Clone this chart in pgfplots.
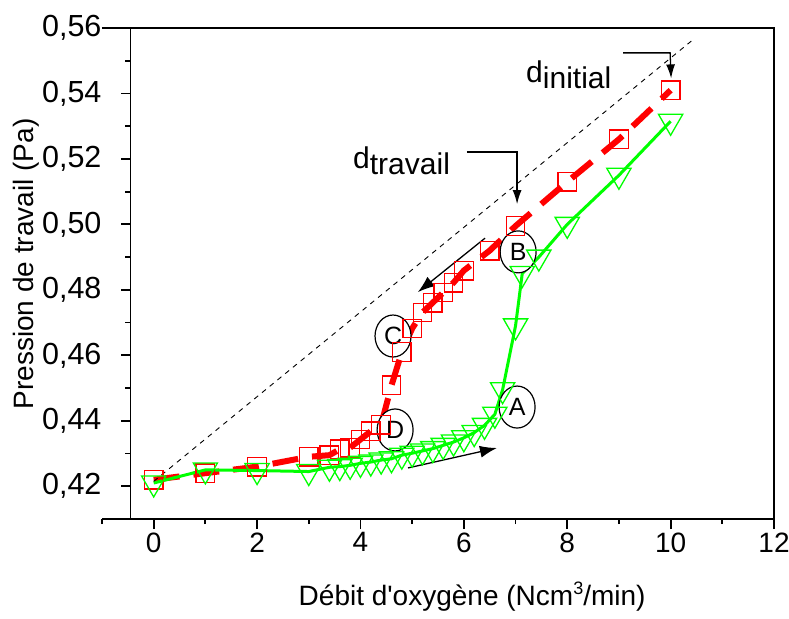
\documentclass[border=0pt]{standalone}
\usepackage{pgfplots}
\pgfplotsset{compat=1.18}
\usepackage{fontspec}
\setmainfont{Liberation Sans}
\usetikzlibrary{arrows.meta,shapes.geometric}
\definecolor{pgreen}{RGB}{0,255,0}
\definecolor{pred}{RGB}{255,0,0}
\newcommand{\bigf}{\fontsize{28}{30}\selectfont}
\begin{document}
\begin{tikzpicture}
\begin{axis}[
  scale only axis, width=672pt, height=491pt,
  xmin=-1, xmax=12, ymin=0.41, ymax=0.56,
  clip=false,
  axis line style={draw=none},
  tick align=outside,
  xtick pos=left, ytick pos=left,
  xtick={0,2,4,6,8,10,12},
  minor xtick={-1,1,3,5,7,9,11},
  ytick={0.42,0.44,0.46,0.48,0.50,0.52,0.54,0.56},
  major tick length=10pt, minor tick length=5pt,
  every tick/.append style={black, line width=1.8pt},
  ytick style={draw=none},
  /pgf/number format/assume math mode=true,
  xticklabel style={font=\bigf},
  yticklabel style={font=\fontsize{30.5}{32}\selectfont, xshift=13pt, /pgf/number format/.cd, fixed, fixed zerofill, precision=2, use comma},
  xlabel={Débit d\textquotesingle oxygène (Ncm\raisebox{11pt}{\fontsize{18}{18}\selectfont 3}/min)},
  every axis x label/.style={at={(axis cs:6.16,0.3837)}, anchor=base, font=\bigf},
  ylabel={Pression de travail (Pa)},
  every axis y label/.style={at={(axis cs:-2.142,0.4879)}, rotate=90, anchor=south, font=\bigf},
]
% frame
\draw[line width=1.8pt] (axis cs:-1,0.56) -- (axis cs:12,0.56) -- (axis cs:12,0.41) -- (axis cs:-1,0.41);
\draw[line width=1.8pt] (axis cs:-0.45,0.41) -- (axis cs:-0.45,0.56);
\pgfplotsinvokeforeach{0.42,0.44,0.46,0.48,0.50,0.52,0.54,0.56}{
  \draw[line width=1.8pt] (axis cs:-0.45,#1) -- ++(-9pt,0pt);
}
\pgfplotsinvokeforeach{0.43,0.45,0.47,0.49,0.51,0.53,0.55}{
  \draw[line width=1.8pt] (axis cs:-0.45,#1) -- ++(-5pt,0pt);
}
% red series (squares)
\addplot[color=pred, line width=6pt, dash pattern=on 26pt off 14pt,
  mark=square, mark size=9.3pt, mark options={solid, draw=pred, line width=1.3pt, fill=white}]
coordinates {
(0,0.422) (1,0.424) (2,0.426) (3,0.429) (3.4,0.4295) (3.6,0.4313) (3.8,0.4318)
(4.0,0.4343) (4.2,0.4368) (4.4,0.4388) (4.6,0.4508) (4.8,0.4610) (5.0,0.4682)
(5.2,0.4731) (5.4,0.4761) (5.6,0.4792) (5.8,0.4822) (6.0,0.4859) (6.5,0.4920)
(7,0.4995) (8,0.5130) (9,0.5260) (10,0.5410)
};
% green series (down triangles)
\addplot[color=pgreen, line width=3pt,
  mark=triangle, mark size=14pt, mark options={solid, draw=pgreen, line width=1.3pt, fill=white, rotate=180}]
coordinates {
(0,0.4210) (1,0.4250) (2,0.4248) (3,0.4245) (3.4,0.4258) (3.6,0.4260) (3.8,0.4264)
(4.0,0.4270) (4.2,0.4274) (4.4,0.4280) (4.6,0.4284) (4.8,0.4295) (5.0,0.4301)
(5.2,0.4308) (5.4,0.4315) (5.6,0.4325) (5.8,0.4335) (6.0,0.4348) (6.2,0.4364)
(6.4,0.4386) (6.6,0.4420) (6.75,0.4495) (7,0.4690) (7.13,0.4850) (7.45,0.4900)
(8,0.5000) (9,0.5150) (10,0.5315)
};
% dashed diagonal
\draw[black, line width=0.9pt, dash pattern=on 5pt off 5pt] (axis cs:0,0.4215) -- (axis cs:10.4,0.556);
% arrows
\draw[-{Latex[length=17pt,width=12pt]}, line width=1.3pt] (axis cs:4.92,0.4256) -- (axis cs:6.64,0.4317);
\draw[-{Latex[length=17pt,width=12pt]}, line width=1.3pt] (axis cs:6.41,0.4958) -- (axis cs:5.11,0.4793);
\draw[-{Latex[length=14pt,width=9pt]}, line width=1.3pt] (axis cs:6.06,0.5221) -- (axis cs:7.03,0.5221) -- (axis cs:7.03,0.5062);
\draw[-{Latex[length=14pt,width=9pt]}, line width=1.3pt] (axis cs:9.08,0.5524) -- (axis cs:9.99,0.5524) -- (axis cs:10.01,0.5446);
% labels d
\node[anchor=base west, inner sep=0pt, font=\fontsize{30}{30}\selectfont] at (axis cs:7.203,0.5435) {d\raisebox{-6pt}{initial}};
\node[anchor=base west, inner sep=0pt, font=\fontsize{30}{30}\selectfont] at (axis cs:3.856,0.5172) {d\raisebox{-6pt}{travail}};
% circled letters
\tikzset{lett/.style={draw, ellipse, fill=white, minimum width=36pt, minimum height=42pt, inner sep=0pt, line width=1.2pt, font=\fontsize{25}{25}\selectfont}}
\node[lett] at (axis cs:7.03,0.4442) {A};
\node[lett] at (axis cs:7.05,0.4916) {B};
\node[lett] at (axis cs:4.63,0.4659) {C};
\node[lett] at (axis cs:4.67,0.4372) {D};
\end{axis}
\pgfresetboundingbox
\path (-102pt,-99pt) rectangle (687pt,519pt);
\end{tikzpicture}
\end{document}
